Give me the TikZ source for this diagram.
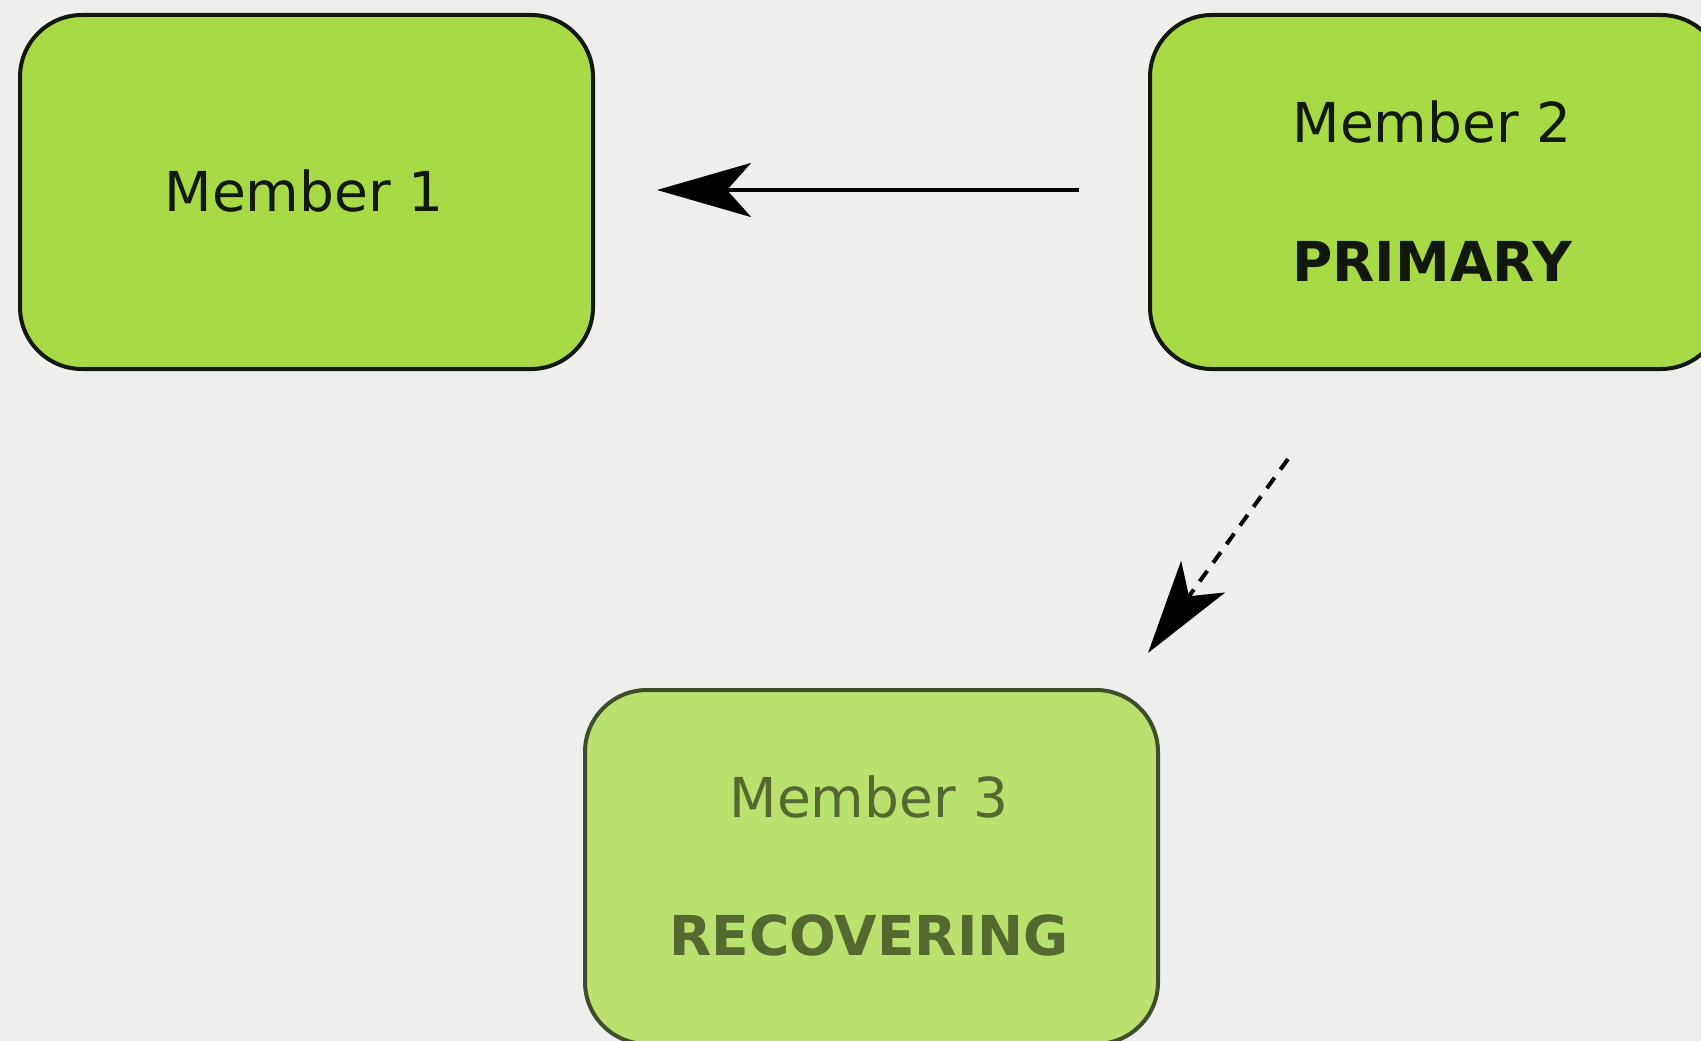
\documentclass[tikz,border=0pt]{standalone}
\usepackage{fontspec}
\setmainfont{DejaVu Sans}
\usetikzlibrary{arrows.meta}
\definecolor{bg}{RGB}{238,238,236}
\definecolor{boxfill}{RGB}{168,218,69}
\definecolor{recfill}{RGB}{186,224,110}
\definecolor{recdraw}{RGB}{62,78,42}
\definecolor{rectext}{RGB}{84,104,48}
\definecolor{ink}{RGB}{18,24,12}
\tikzset{
  member/.style={draw=ink, fill=boxfill, line width=4pt, rounded corners=62pt,
    minimum width=573pt, minimum height=354pt, inner sep=0pt, anchor=north west},
  recbox/.style={member, draw=recdraw, fill=recfill},
  lbl/.style={font=\fontsize{55}{66}\selectfont, text=ink, anchor=base, inner sep=0pt},
  blbl/.style={lbl, font=\fontsize{55}{66}\selectfont\bfseries},
  conn/.style={line width=4pt, draw=black, -{Stealth[length=94pt,width=54pt,inset=24pt]}},
}
\begin{document}
\begin{tikzpicture}[x=1pt,y=-1pt]
\fill[bg] (0,0) rectangle (1701,1041);
\useasboundingbox (0,0) rectangle (1701,1041);
\clip (0,0) rectangle (1701,1041);
\node[member] (m1) at (18,13) {};
\node[member] (m2) at (1148,13) {};
\node[recbox] (m3) at (583,688) {};
\node[lbl] (t1) at (304,211) {Member 1};
\node[lbl] (t2) at (1432,142) {Member 2};
\node[blbl] (p2) at (1432,281) {PRIMARY};
\node[lbl, text=rectext] (t3) at (869,817) {Member 3};
\node[blbl, text=rectext] (r3) at (869,955) {RECOVERING};
\draw[conn, shorten <=69pt, shorten >=62pt] (m2.west |- 0,190) -- (m1.east |- 0,190);
\coordinate (d1) at (1288,459);
\coordinate (d2) at (1148,653);
\draw[conn, dash pattern=on 13pt off 10pt] (d1) -- (d2);
\end{tikzpicture}
\end{document}
